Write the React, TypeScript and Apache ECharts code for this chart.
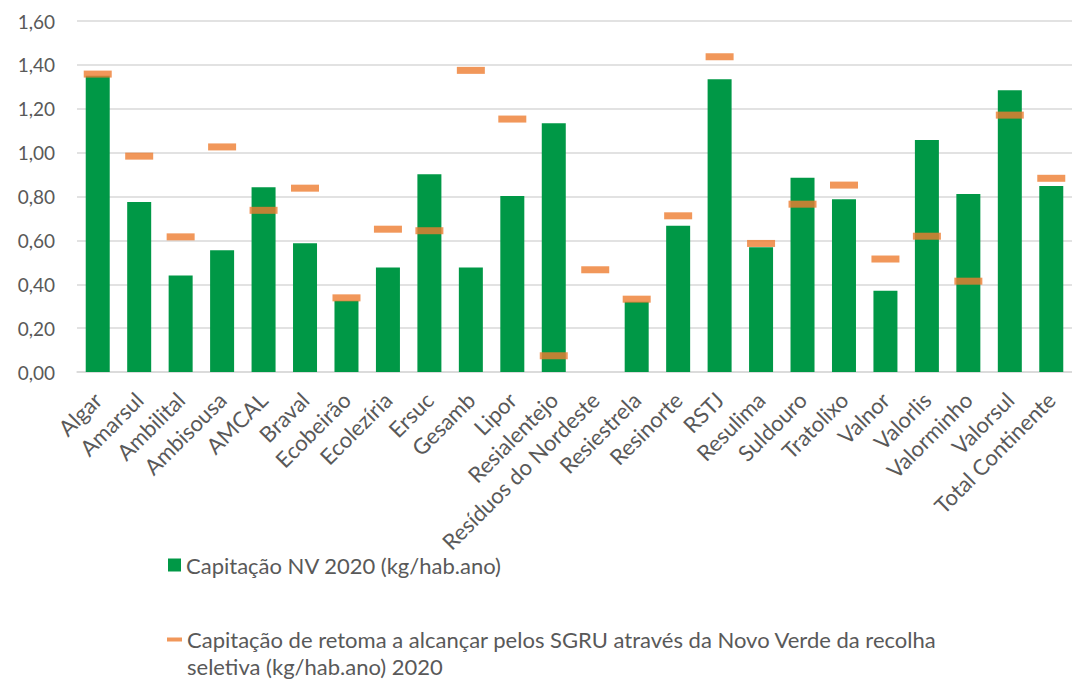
import React, { useEffect, useRef } from "react";
import * as echarts from "echarts";

const categories = [
  "Algar", "Amarsul", "Ambilital", "Ambisousa", "AMCAL", "Braval", "Ecobeirão",
  "Ecolezíria", "Ersuc", "Gesamb", "Lipor", "Resialentejo", "Resíduos do Nordeste",
  "Resiestrela", "Resinorte", "RSTJ", "Resulima", "Suldouro", "Tratolixo", "Valnor",
  "Valorlis", "Valorminho", "Valorsul", "Total Continente",
];

const capitacaoNV2020 = [
  1.35, 0.775, 0.44, 0.555, 0.842, 0.587, 0.325, 0.476, 0.901, 0.476, 0.802, 1.134,
  0, 0.32, 0.667, 1.334, 0.569, 0.885, 0.787, 0.37, 1.058, 0.811, 1.284, 0.848,
];

const capitacaoRetoma2020 = [
  1.358, 0.984, 0.616, 1.026, 0.737, 0.838, 0.338, 0.651, 0.644, 1.375, 1.153, 0.074,
  0.466, 0.332, 0.712, 1.437, 0.586, 0.765, 0.852, 0.515, 0.619, 0.414, 1.171, 0.883,
];

const yTicks = { min: 0, max: 1.6, interval: 0.2 };

const barName = "Capitação NV 2020 (kg/hab.ano)";
const markerName =
  "Capitação de retoma a alcançar pelos SGRU através da Novo Verde da recolha seletiva (kg/hab.ano) 2020";

const FONT = "Lato";
const TEXT_COLOR = "#595959";

export default function App() {
  const ref = useRef<HTMLDivElement>(null);

  useEffect(() => {
    if (!ref.current) return;
    const chart = echarts.init(ref.current, null, { renderer: "svg" });
    chart.setOption({
      animation: false,
      backgroundColor: "#ffffff",
      textStyle: { fontFamily: FONT },
      grid: { left: 77, top: 21, width: 1000, height: 351, containLabel: false },
      xAxis: {
        type: "category",
        data: categories,
        axisLine: { lineStyle: { color: "#d9d9d9", width: 1.5 } },
        axisTick: { show: false },
        axisLabel: {
          interval: 0,
          rotate: 45,
          fontSize: 22,
          color: TEXT_COLOR,
          fontFamily: FONT,
          margin: 24,
        },
      },
      yAxis: {
        type: "value",
        min: yTicks.min,
        max: yTicks.max,
        interval: yTicks.interval,
        axisLine: { show: false },
        axisTick: { show: false },
        splitLine: { lineStyle: { color: "#d9d9d9", width: 1.5 } },
        axisLabel: {
          fontSize: 19,
          color: TEXT_COLOR,
          fontFamily: FONT,
          margin: 22,
          formatter: (v: number) => v.toFixed(2).replace(".", ","),
        },
      },
      legend: [
        {
          data: [barName],
          left: 168,
          top: 552,
          padding: 0,
          itemWidth: 13,
          itemHeight: 13,
          icon: "rect",
          textStyle: { fontSize: 22, lineHeight: 26, color: TEXT_COLOR, fontFamily: FONT },
        },
        {
          data: [markerName],
          left: 167,
          top: 599,
          padding: 0,
          itemWidth: 15,
          itemHeight: 4,
          icon: "rect",
          formatter: () =>
            "\nCapitação de retoma a alcançar pelos SGRU através da Novo Verde da recolha\nseletiva (kg/hab.ano) 2020",
          textStyle: {
            fontSize: 22,
            color: TEXT_COLOR,
            fontFamily: FONT,
            lineHeight: 27,
          },
        },
      ],
      series: [
        {
          name: barName,
          type: "bar",
          data: capitacaoNV2020,
          barWidth: 24,
          itemStyle: { color: "#009846" },
        },
        {
          name: markerName,
          type: "scatter",
          data: capitacaoRetoma2020,
          symbol: "rect",
          symbolSize: [28, 7],
          itemStyle: { color: "#ED7D31" },
          z: 5,
        },
      ],
    });
    return () => chart.dispose();
  }, []);

  return (
    <div
      ref={ref}
      style={{ position: "fixed", left: 0, top: 0, width: 1072, height: 682 }}
    />
  );
}
